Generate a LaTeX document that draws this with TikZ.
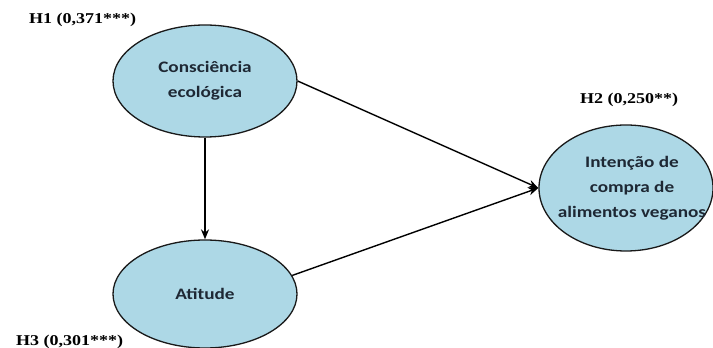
\documentclass[tikz,border=0pt]{standalone}
\usepackage{fontspec}
\setmainfont{Liberation Serif}
\newfontfamily\ellfont{Carlito}
\usetikzlibrary{arrows.meta,shapes.geometric}
\definecolor{ellfill}{RGB}{173,216,230}
\definecolor{elltext}{RGB}{30,40,52}
\tikzset{
  construct/.style={ellipse, draw=black!90, line width=1.3pt, fill=ellfill, inner sep=0pt},
  ctext/.style={inner sep=0pt, text=elltext, align=center,
    font=\ellfont\bfseries\fontsize{16}{25}\selectfont},
  hyp/.style={inner sep=0pt, font=\bfseries\fontsize{15}{18}\selectfont},
  path/.style={draw=black, line width=1.4pt, -{Stealth[length=10pt,width=8pt]}}
}
\newcommand{\widetxt}[1]{\scalebox{1.2}[1]{#1}}
\begin{document}
\begin{tikzpicture}[x=1pt,y=1pt]
\useasboundingbox (0,0) rectangle (713,348);
\node[construct, minimum width=184pt, minimum height=112pt] (e1) at (205,267) {};
\node[construct, minimum width=184pt, minimum height=108pt] (e2) at (205,54) {};
\node[construct, minimum width=174pt, minimum height=126pt] (e3) at (626,160) {};
\node[ctext] (t1) at (e1.center) {\widetxt{Consciência}\\\widetxt{ecológica}};
\node[ctext] (t2) at (e2.center) {\widetxt{Atitude}};
\node[ctext] (t3) at ([xshift=6pt]e3.center) {\widetxt{Intenção de}\\\widetxt{compra de}\\\widetxt{alimentos veganos}};
\node[hyp] (h1) at (82.5,328) {\widetxt{H1 (0,371***)}};
\node[hyp] (h2) at (629,248) {\widetxt{H2 (0,250**)}};
\node[hyp] (h3) at (69.5,6) {\widetxt{H3 (0,301***)}};
\draw[path] (e1.south) -- (e2.north);
\draw[path] (e1.east) -- (e3.west);
\draw[path] (e2.12) -- (e3.west);
\end{tikzpicture}
\end{document}
